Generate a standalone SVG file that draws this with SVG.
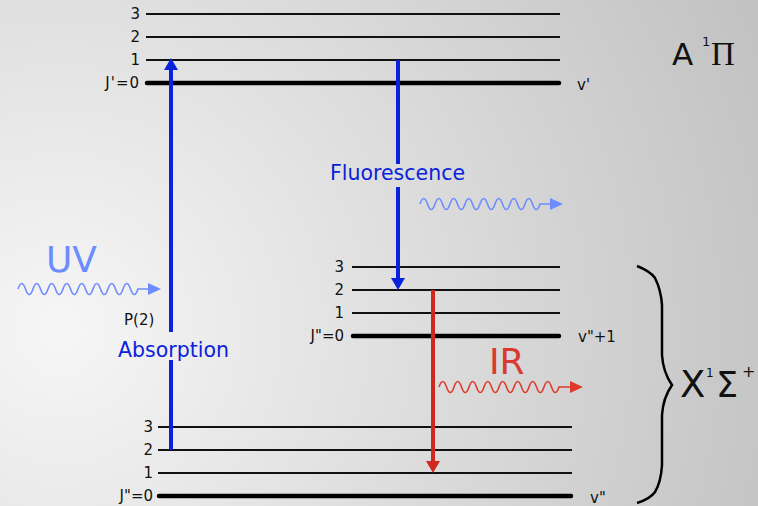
<svg xmlns="http://www.w3.org/2000/svg" width="758" height="506" viewBox="0 0 758 506">
<defs>
<radialGradient id="bg" cx="60" cy="330" r="760" gradientUnits="userSpaceOnUse">
<stop offset="0" stop-color="#f6f6f6"/>
<stop offset="1" stop-color="#c2c2c2"/>
</radialGradient>
<style>
.lv{stroke:#111;stroke-width:2;fill:none}
.lv0{stroke:#000;stroke-width:4.5;fill:none;stroke-linecap:round}
.lb{font-family:"DejaVu Sans",sans-serif;font-size:15px;fill:#111}
.lbr{font-family:"DejaVu Sans",sans-serif;font-size:15px;fill:#111;text-anchor:end}
.blue{stroke:#0a22dc;stroke-width:4;fill:none}
.red{stroke:#d0281e;stroke-width:4;fill:none}
.wb{stroke:#6c8cff;stroke-width:1.6;fill:none}
.wr{stroke:#e03a2e;stroke-width:1.6;fill:none}
.big{font-family:"DejaVu Sans",sans-serif;font-size:36px}
.mid{font-family:"DejaVu Sans",sans-serif;font-size:20.5px;fill:#0a22dc}
.st{font-family:"DejaVu Sans",sans-serif;fill:#111}
</style>
</defs>
<rect width="758" height="506" fill="url(#bg)"/>

<g id="upper-state">
<line class="lv" x1="146" y1="14" x2="560" y2="14"/>
<line class="lv" x1="146" y1="37" x2="560" y2="37"/>
<line class="lv" x1="146" y1="60" x2="560" y2="60"/>
<line class="lv0" x1="147" y1="83" x2="559" y2="83"/>
<text class="lbr" x="140" y="19">3</text>
<text class="lbr" x="140" y="42">2</text>
<text class="lbr" x="140" y="65">1</text>
<text class="lbr" x="140" y="88" letter-spacing="1">J'=0</text>
<text class="lb" x="577" y="90">v'</text>
</g>

<g id="middle-state">
<line class="lv" x1="352" y1="267" x2="560" y2="267"/>
<line class="lv" x1="352" y1="290" x2="560" y2="290"/>
<line class="lv" x1="352" y1="313" x2="560" y2="313"/>
<line class="lv0" x1="353" y1="336" x2="559" y2="336"/>
<text class="lbr" x="344" y="272">3</text>
<text class="lbr" x="344" y="295">2</text>
<text class="lbr" x="344" y="318">1</text>
<text class="lbr" x="344" y="341">J"=0</text>
<text class="lb" x="578" y="342">v"+1</text>
</g>

<g id="lower-state">
<line class="lv" x1="158" y1="427" x2="572" y2="427"/>
<line class="lv" x1="158" y1="450" x2="572" y2="450"/>
<line class="lv" x1="158" y1="473" x2="572" y2="473"/>
<line class="lv0" x1="159" y1="496" x2="571" y2="496"/>
<text class="lbr" x="153" y="432">3</text>
<text class="lbr" x="153" y="455">2</text>
<text class="lbr" x="153" y="478">1</text>
<text class="lbr" x="153" y="501">J"=0</text>
<text class="lb" x="590" y="503">v"</text>
</g>

<g id="connectors">
<line class="blue" x1="171" y1="450" x2="171" y2="360"/>
<line class="blue" x1="171" y1="332" x2="171" y2="68"/>
<polygon points="171,58 164,70 178,70" fill="#0a22dc"/>
<line class="blue" x1="398" y1="60" x2="398" y2="164"/>
<line class="blue" x1="398" y1="187" x2="398" y2="280"/>
<polygon points="398,290 391,278 405,278" fill="#0a22dc"/>
<line class="red" x1="433" y1="290" x2="433" y2="464"/>
<polygon points="433,473 426,461 440,461" fill="#d0281e"/>
<path class="wb" d="M18,289 q3.75,-11 7.5,0 t7.5,0 t7.5,0 t7.5,0 t7.5,0 t7.5,0 t7.5,0 t7.5,0 t7.5,0 t7.5,0 t7.5,0 t7.5,0 t7.5,0 t7.5,0 t7.5,0 t7.5,0 L150,289"/>
<polygon points="161,289 148,283 148,295" fill="#6c8cff"/>
<path class="wb" d="M420,204 q3.75,-11 7.5,0 t7.5,0 t7.5,0 t7.5,0 t7.5,0 t7.5,0 t7.5,0 t7.5,0 t7.5,0 t7.5,0 t7.5,0 t7.5,0 t7.5,0 t7.5,0 t7.5,0 t7.5,0 L552,204"/>
<polygon points="563,204 550,198 550,210" fill="#6c8cff"/>
<path class="wr" d="M439,387 q3.75,-11 7.5,0 t7.5,0 t7.5,0 t7.5,0 t7.5,0 t7.5,0 t7.5,0 t7.5,0 t7.5,0 t7.5,0 t7.5,0 t7.5,0 t7.5,0 t7.5,0 t7.5,0 t7.5,0 L572,387"/>
<polygon points="583,387 570,381 570,393" fill="#e03a2e"/>
</g>

<g id="labels">
<text class="mid" x="118" y="357">Absorption</text>
<text class="mid" x="330" y="180">Fluorescence</text>
<text class="st" x="124" y="325" font-size="15">P(2)</text>
<text class="big" x="46" y="272" fill="#6c8cff">UV</text>
<text class="big" x="489" y="374" fill="#d83a30">IR</text>
</g>

<g id="state-A">
<text class="st" x="672" y="65" font-size="31">A</text>
<text class="st" x="702" y="46" font-size="13">1</text>
<text x="711" y="65" font-size="33" font-family="Liberation Serif, serif" fill="#111">Π</text>
</g>

<g id="state-X">
<path d="M637,266 Q650,271 655,278 Q661,290 662,305 L662,355 Q663,372 672,385 Q663,398 662,415 L662,465 Q661,482 655,492 Q650,499 637,503" fill="none" stroke="#000" stroke-width="2.5"/>
<text class="st" x="680" y="397" font-size="37">X</text>
<text class="st" x="706" y="377" font-size="12">1</text>
<text class="st" x="716" y="397" font-size="35">Σ</text>
<text class="st" x="742" y="377" font-size="16">+</text>
</g>
</svg>
